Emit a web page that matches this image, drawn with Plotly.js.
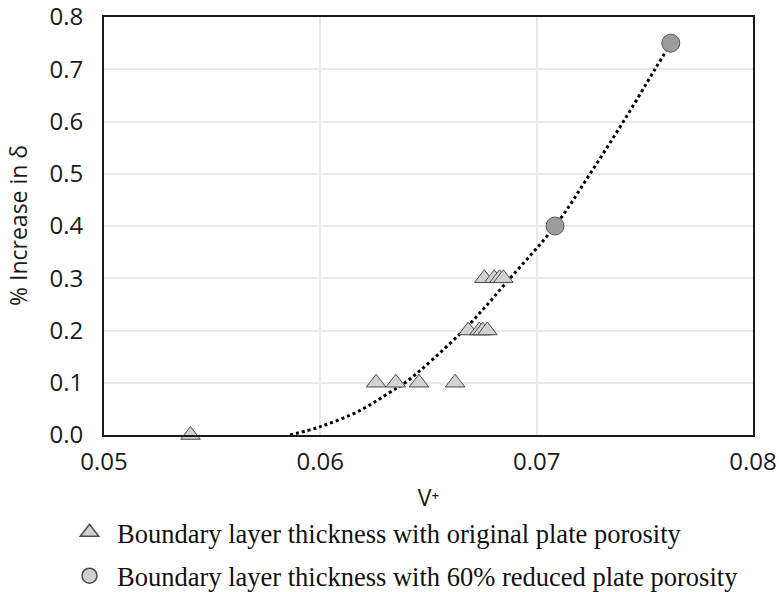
<!DOCTYPE html>
<html>
<head>
<meta charset="utf-8">
<script src="https://cdn.plot.ly/plotly-3.0.1.min.js"></script>
<style>
  html, body { margin: 0; padding: 0; background: #ffffff; }
  #chart { width: 779px; height: 592px; }
</style>
</head>
<body>
<div id="chart"></div>
<script>
// Boundary layer thickness increase versus V+
const originalV = [0.0540, 0.06258, 0.06349, 0.06456, 0.06623, 0.06684, 0.06735, 0.06751, 0.06772, 0.06758, 0.06804, 0.06828, 0.06846];
const originalIncrease = [0.0, 0.1, 0.1, 0.1, 0.1, 0.2, 0.2, 0.2, 0.2, 0.3, 0.3, 0.3, 0.3];

const reducedV = [0.07085, 0.0762];
const reducedIncrease = [0.4, 0.75];

// Trend curve
const trendV = [0.0586, 0.0600, 0.06184, 0.06322, 0.06392, 0.06661, 0.06877, 0.07085, 0.07247, 0.07401, 0.07547, 0.0762];
const trendIncrease = [0.0, 0.016, 0.047, 0.082, 0.10, 0.20, 0.30, 0.40, 0.50, 0.60, 0.70, 0.75];

const xTicks = [0.05, 0.06, 0.07, 0.08];
const xTickText = ['0.05', '0.06', '0.07', '0.08'];
const yTicks = [0, 0.1, 0.2, 0.3, 0.4, 0.5, 0.6, 0.7, 0.8];
const yTickText = ['0.0', '0.1', '0.2', '0.3', '0.4', '0.5', '0.6', '0.7', '0.8'];

const xTitle = 'V⁺';
const yTitle = '% Increase in δ';

const legendLabels = [
  'Boundary layer thickness with original plate porosity',
  'Boundary layer thickness with 60% reduced plate porosity'
];

const sans = '"Open Sans", "Noto Sans", sans-serif';
const serif = '"Liberation Serif", "DejaVu Serif", serif';

const traces = [
  {
    x: trendV, y: trendIncrease, type: 'scatter', mode: 'lines',
    line: { color: '#000000', width: 3, dash: 'dot', shape: 'spline' },
    showlegend: false, hoverinfo: 'skip'
  },
  {
    x: originalV, y: originalIncrease, type: 'scatter', mode: 'markers',
    marker: { symbol: 'triangle-up', size: 17, color: '#d2d2d2', line: { color: '#4a4a4a', width: 1 } },
    showlegend: false, cliponaxis: false
  },
  {
    x: reducedV, y: reducedIncrease, type: 'scatter', mode: 'markers',
    marker: { symbol: 'circle', size: 18, color: '#9c9c9c', line: { color: '#5a5a5a', width: 1 } },
    showlegend: false, cliponaxis: false
  },
  {
    x: [null], y: [null], type: 'scatter', mode: 'markers', name: legendLabels[0],
    legendgroup: 'a',
    marker: { symbol: 'triangle-up', size: 16, color: '#d2d2d2', line: { color: '#4a4a4a', width: 1.5 } }
  },
  {
    x: [null], y: [null], type: 'scatter', mode: 'markers', name: legendLabels[1],
    legendgroup: 'b',
    marker: { symbol: 'circle', size: 15, color: '#d2d2d2', line: { color: '#4a4a4a', width: 1.5 } }
  }
];

const plotLeft = 104, plotRight = 26, plotTop = 17, plotBottom = 157;
const plotWidth = 779 - plotLeft - plotRight;

const layout = {
  width: 779, height: 592,
  margin: { l: plotLeft, r: plotRight, t: plotTop, b: plotBottom, autoexpand: false },
  paper_bgcolor: '#ffffff', plot_bgcolor: '#ffffff',
  font: { family: sans, color: '#1a1a1a', size: 24 },
  showlegend: true,
  legend: {
    x: 62 / 779, xref: 'container', xanchor: 'left',
    y: 0.141, yref: 'container', yanchor: 'top',
    font: { family: serif, size: 26.5, color: '#111111' },
    bgcolor: 'rgba(0,0,0,0)', borderwidth: 0,
    itemwidth: 45, tracegroupgap: 6, traceorder: 'grouped'
  },
  xaxis: {
    range: [0.05, 0.08], tickvals: xTicks, ticktext: xTickText, tickangle: 0,
    showgrid: true, gridcolor: '#e9e9e9', gridwidth: 2,
    showline: true, linecolor: '#1a1a1a', linewidth: 2, mirror: true,
    ticks: 'outside', ticklen: 4, tickcolor: 'rgba(0,0,0,0)', zeroline: false,
    ticklabeloverflow: 'allow',
    tickfont: { family: sans, size: 24, color: '#1a1a1a' },
    title: { text: xTitle, font: { family: sans, size: 23, color: '#1a1a1a' }, standoff: 14 }
  },
  yaxis: {
    range: [0, 0.8], tickvals: yTicks, ticktext: yTickText,
    showgrid: true, gridcolor: '#e9e9e9', gridwidth: 2,
    showline: true, linecolor: '#1a1a1a', linewidth: 2, mirror: true,
    ticks: 'outside', ticklen: 14, tickcolor: 'rgba(0,0,0,0)', zeroline: false,
    ticklabeloverflow: 'allow',
    tickfont: { family: sans, size: 24, color: '#1a1a1a' }
  },
  annotations: [
    {
      text: yTitle, textangle: -90, showarrow: false,
      xref: 'paper', x: -(plotLeft - 18) / plotWidth, xanchor: 'center',
      yref: 'paper', y: 0.5, yanchor: 'middle',
      font: { family: sans, size: 23, color: '#1a1a1a' }
    }
  ]
};

Plotly.newPlot('chart', traces, layout, { displayModeBar: false, staticPlot: true });
</script>
</body>
</html>
